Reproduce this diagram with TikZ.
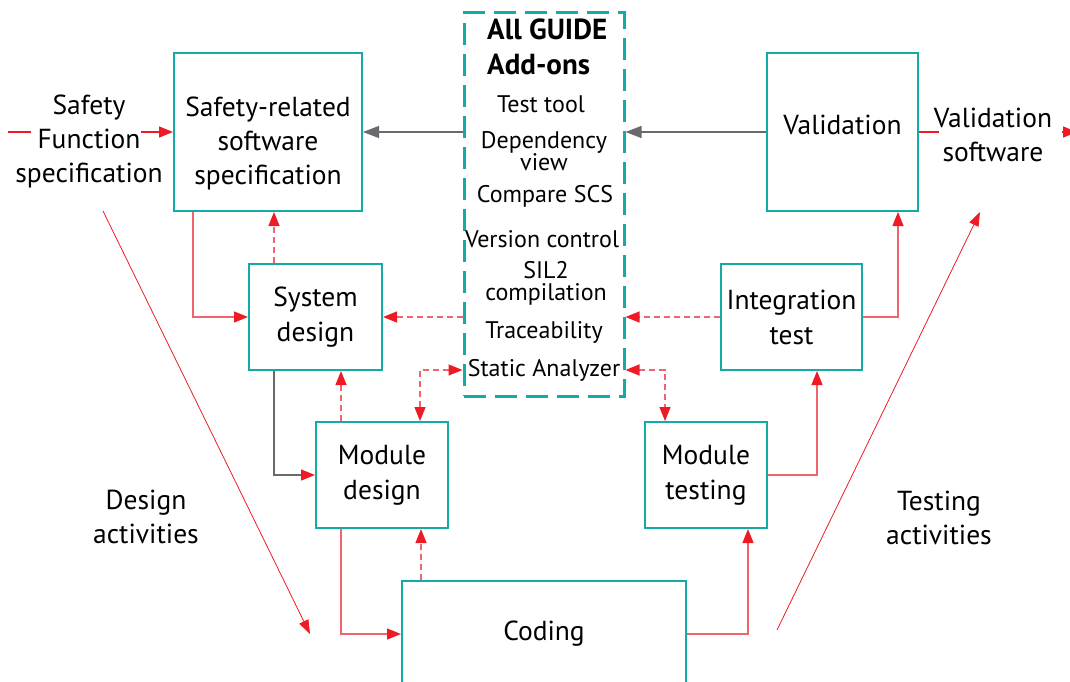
\documentclass[tikz,border=0pt]{standalone}
\usepackage{fontspec}
\setmainfont{PT Sans}
\usetikzlibrary{arrows.meta,positioning}
\definecolor{boxteal}{RGB}{20,170,165}
\definecolor{vred}{RGB}{237,28,36}
\definecolor{vpink}{RGB}{240,100,110}
\definecolor{vgray}{RGB}{105,105,110}
\tikzset{
  stepbox/.style={draw=boxteal, line width=2pt, align=center, inner sep=0pt, font=\fontsize{27.5}{35}\selectfont},
  plain/.style={align=center, inner sep=0pt, font=\fontsize{27.5}{34}\selectfont},
  addon/.style={align=center, inner sep=0pt, font=\fontsize{24}{22}\selectfont},
  addontitle/.style={align=left, inner sep=0pt, font=\bfseries\fontsize{29}{35}\selectfont},
  io/.style={draw=vred, line width=2pt},
  flow/.style={draw=vpink, line width=1.2pt, -{Triangle[length=14pt,width=11pt,color=vred]}},
  back/.style={flow, dash pattern=on 6pt off 4pt},
  both/.style={back, {Triangle[length=14pt,width=11pt,color=vred]}-{Triangle[length=14pt,width=11pt,color=vred]}},
  feed/.style={draw=vgray, line width=1.2pt, -{Triangle[length=16pt,width=12pt,color=vgray]}},
  slope/.style={draw=vred, line width=0.8pt, -{Triangle[length=14pt,width=10pt,color=vred]}}
}

\begin{document}
\begin{tikzpicture}[x=1pt,y=-1pt]
			%%%%% START %%%%%
			\useasboundingbox (0,0) rectangle (1070,682);
			\clip (0,0) rectangle (1070,682);
			
			\node[stepbox, minimum width=188pt, minimum height=158pt, label={[plain, yshift=-11pt]center:Safety-related\\software\\specification}] (srs) at (268,132) {};
			\node[stepbox, minimum width=133pt, minimum height=106pt] (sysd) at (315.5,317) {System\\design};
			\node[stepbox, minimum width=132pt, minimum height=106pt] (modd) at (382,475) {Module\\design};
			\node[stepbox, minimum width=284pt, minimum height=106pt] (coding) at (544,634) {Coding};
			\node[stepbox, minimum width=122pt, minimum height=106pt] (modt) at (706,475) {Module\\testing};
			\node[stepbox, minimum width=141pt, minimum height=106pt] (intt) at (791.5,317) {Integration\\test};
			\node[stepbox, minimum width=151pt, minimum height=158pt, label={[plain, yshift=7pt]center:Validation}] (val) at (842.5,132) {};
			
			\node[draw=boxteal, line width=3pt, dash pattern=on 22pt off 9pt, minimum width=160pt, minimum height=383pt] (guide) at (544,204.5) {};
			\node[addontitle, anchor=west] (ttl) at (487,47) {All GUIDE\\Add-ons};
			\node[addon] (tt) at (541,104) {Test tool};
			\node[addon] (dv) at (544,151) {Dependency\\view};
			\node[addon] (cmp) at (545,196) {Compare SCS};
			\node[addon] (vc) at (542,239) {Version control};
			\node[addon] (sil) at (546,283) {SIL2\\compilation};
			\node[addon] (tr) at (544,332) {Traceability};
			\node[addon] (sa) at (544,370) {Static Analyzer};
			
			\node[plain] (sfs) at (89,141) {Safety\\Function\\specification};
			\node[plain] (vsw) at (993,135) {Validation\\software};
			\node[plain] (dact) at (146,517) {Design\\activities};
			\node[plain] (tact) at (939,518) {Testing\\activities};
			
			\coordinate (sfsin) at (8,132);
			\coordinate (vswout) at (1077,132);
			\draw[io] (sfsin) -- ([xshift=16pt]sfs.west |- sfsin);
			\draw[io, flow, draw=vred] ([xshift=-22pt]sfs.east |- sfsin) -- (srs.west);
			\draw[io] (val.east) -- ([xshift=5pt]vsw.west |- val.east);
			\draw[io, flow, draw=vred] ([xshift=10pt]vsw.east |- val.east) -- (vswout);
			
			\draw[feed] (guide.west |- srs.east) -- (srs.east);
			\draw[feed] (val.west) -- (guide.east |- val.west);
			
			\draw[flow] ([xshift=20pt]srs.south west) |- (sysd.west);
			\draw[back] ([xshift=26pt]sysd.north west) -- ([xshift=26pt]sysd.north west |- srs.south);
			\draw[back] (guide.west |- sysd.east) -- (sysd.east);
			\draw[back] (intt.west) -- (guide.east |- intt.west);
			\draw[flow] (intt.east) -| ([xshift=-21pt]val.south east);
			
			\draw[flow, draw=vgray] ([xshift=26pt]sysd.south west) |- (modd.west);
			\draw[back] ([xshift=26pt]modd.north west) -- ([xshift=26pt]modd.north west |- sysd.south);
			\draw[both] ([xshift=105pt]modd.north west) |- (guide.west |- sa);
			\draw[both] (guide.east |- sa) -| ([xshift=21pt]modt.north west);
			\draw[flow] (modt.east) -| ([xshift=-46pt]intt.south east);
			
			\draw[back] ([xshift=20pt]coding.north west) -- ([xshift=20pt]coding.north west |- modd.south);
			\draw[flow] ([xshift=26pt]modd.south west) |- (coding.west);
			\draw[flow] (coding.east) -| ([xshift=-20pt]modt.south east);
			
			\coordinate (dtop) at (103,211);
			\coordinate (dbot) at (310,634);
			\draw[slope] (dtop) -- (dbot);
			\coordinate (tbot) at (777,630);
			\coordinate (ttop) at (980,212);
			\draw[slope] (tbot) -- (ttop);
			%%%%% END %%%%%
\end{tikzpicture}
\end{document}
